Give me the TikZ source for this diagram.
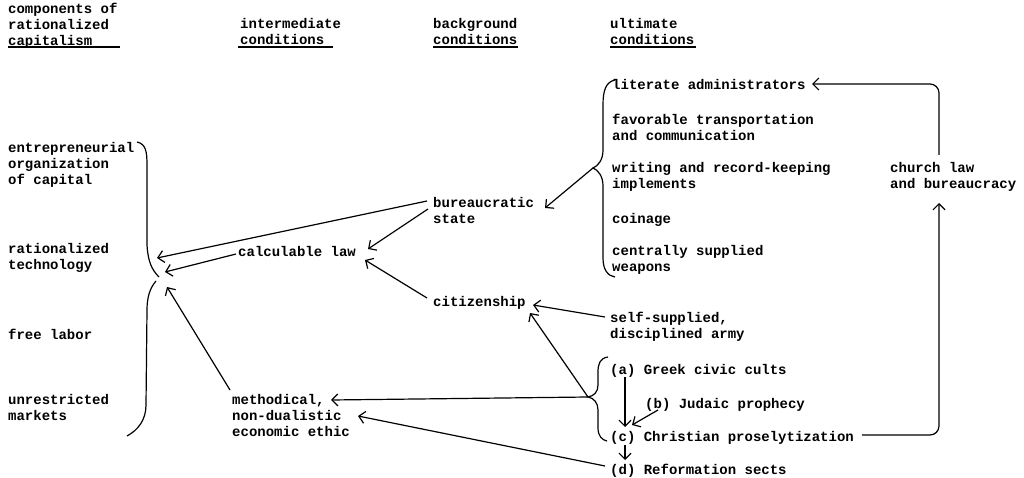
\documentclass[tikz,border=0pt]{standalone}
\usepackage{fontspec}
\setmonofont{Liberation Mono}
\usetikzlibrary{arrows.meta,calc}
\tikzset{
  lbl/.style={anchor=north west, inner sep=0pt, align=left,
    font=\ttfamily\bfseries\fontsize{14}{16}\selectfont, execute at begin node=\strut},
  arr/.style={line width=1.2pt, -{Straight Barb[length=6pt,width=12pt,line width=1.2pt]}},
  bracepath/.style={line width=1.2pt},
  uline/.style={line width=1.4pt}
}
\begin{document}
\begin{tikzpicture}[x=1pt,y=-1pt]
\fill[white] (0,0) rectangle (1024,478);
\useasboundingbox (0,0) rectangle (1024,478);

% headers
\node[lbl] (h1) at (8,2.6) {components of\\rationalized\\capitalism};
\node[lbl] (h2) at (240,18.6) {intermediate\\conditions};
\node[lbl] (h3) at (433,18.6) {background\\conditions};
\node[lbl] (h4) at (610,18.6) {ultimate\\conditions};
\draw[uline] (8,47) -- (120,47);
\draw[uline] (238,47) -- (333,47);
\draw[uline] (433,47) -- (518,47);
\draw[uline] (610,47) -- (696,47);

% components
\node[lbl] (c1) at (8,142.6) {entrepreneurial\\organization\\of capital};
\node[lbl] (c2) at (8,243.6) {rationalized\\technology};
\node[lbl] (c3) at (8,327.6) {free labor};
\node[lbl] (c4) at (8,394.6) {unrestricted\\markets};

% intermediate
\node[lbl] (cl) at (238,244.6) {calculable law};
\node[lbl] (me) at (232,394.6) {methodical,\\non-dualistic\\economic ethic};

% background
\node[lbl] (bs) at (433,197.6) {bureaucratic\\state};
\node[lbl] (ci) at (433,294.6) {citizenship};

% ultimate
\node[lbl] (u1) at (612,78.6) {literate administrators};
\node[lbl] (u2) at (612,113.6) {favorable transportation\\and communication};
\node[lbl] (u3) at (612,162.6) {writing and record-keeping\\implements};
\node[lbl] (u4) at (612,211.6) {coinage};
\node[lbl] (u5) at (612,245.6) {centrally supplied\\weapons};
\node[lbl] (ch) at (890,162.6) {church law\\and bureaucracy};
\node[lbl] (sa) at (610,311.6) {self-supplied,\\disciplined army};
\node[lbl] (ra) at (610,362.6) {(a) Greek civic cults};
\node[lbl] (rb) at (645,396.6) {(b) Judaic prophecy};
\node[lbl] (rc) at (610,429.6) {(c) Christian proselytization};
\node[lbl] (rd) at (610,462.6) {(d) Reformation sects};

% braces
\draw[bracepath] (137,142) .. controls (146,144) and (147,152) .. (147,165) -- (147,245)
  .. controls (148,262) and (152,270) .. (159,277);
\draw[bracepath] (156,281) .. controls (150,288) and (147,297) .. (147,310) -- (146,405)
  .. controls (146,420) and (138,430) .. (127,436);
\draw[bracepath] (615,80) .. controls (606,82) and (603,90) .. (603,105) -- (603,150)
  .. controls (603,160) and (598,166) .. (593,168) .. controls (598,170) and (603,176) .. (603,186)
  -- (603,258) .. controls (603,270) and (608,276) .. (615,277);
\draw[bracepath] (608,357) .. controls (600,358) and (598,364) .. (598,372) -- (598,385)
  .. controls (598,392) and (594,396) .. (588,397) .. controls (594,398) and (598,403) .. (598,410)
  -- (598,428) .. controls (598,436) and (602,440) .. (607,441);

\coordinate (L1) at (157,258);
\coordinate (L2) at (165,272);
\coordinate (L3) at (167,287);
\coordinate (utip) at (593,168);
\coordinate (btip) at (588,397);

% connectors
\draw[arr] ($(bs.north west)+(-6,3.4)$) -- (L1);
\draw[arr] ($(cl.north west)+(-2,9.4)$) -- (L2);
\draw[arr] ($(me.north west)+(-2,-4.6)$) -- (L3);
\draw[arr] ($(bs.north west)+(-5,11.4)$) -- ($(cl.north west)+(130,4.4)$);
\draw[arr] ($(ci.north west)+(-6,3.4)$) -- ($(cl.north west)+(127,15.4)$);
\draw[arr] (utip) -- ($(bs.north west)+(112,10.4)$);
\draw[arr, rounded corners=9pt] ($(ch.north west)+(49,-7.6)$) |- ($(u1.north west)+(200,5.4)$);
\draw[arr, rounded corners=9pt] ($(rc.north west)+(252,5.4)$) -| ($(ch.north west)+(49,40.4)$);
\draw[arr] ($(sa.north west)+(-5,5.4)$) -- ($(ci.north west)+(100,10.4)$);
\draw[arr] (btip) -- ($(ci.north west)+(97,18.4)$);
\draw[arr] (btip) -- ($(me.north west)+(99,5.4)$);
\draw[arr] ($(rd.north west)+(-5,3.4)$) -- ($(me.north west)+(126,21.4)$);
\draw[arr] ($(ra.north west)+(15,14.4)$) -- ($(rc.north west)+(15,-2.6)$);
\draw[arr] ($(rb.north west)+(13,13.4)$) -- ($(rc.north west)+(22,-4.6)$);
\draw[arr] ($(rc.north west)+(15,15.4)$) -- ($(rd.north west)+(15,-2.6)$);
\end{tikzpicture}
\end{document}
